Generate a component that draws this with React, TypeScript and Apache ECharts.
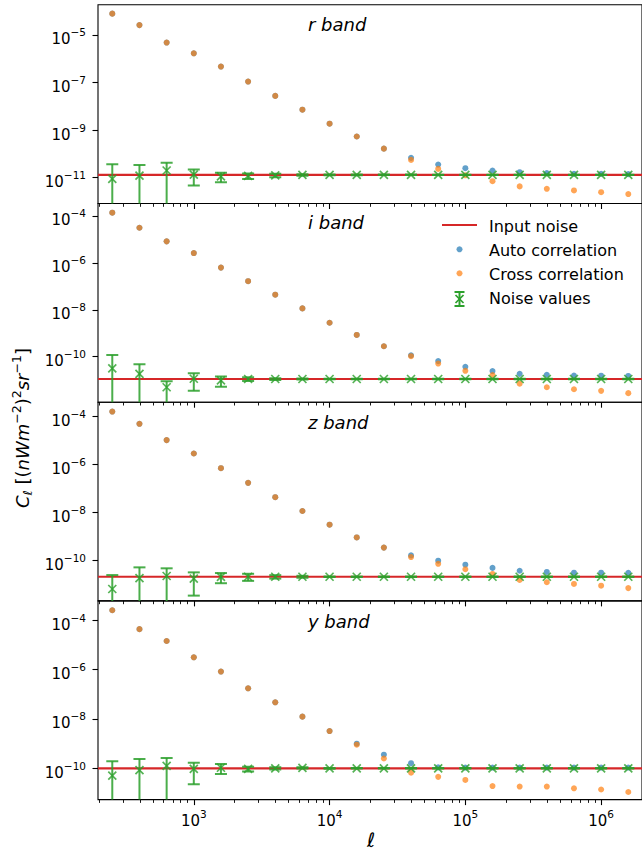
import { useEffect, useRef } from 'react';
import * as echarts from 'echarts';

const FONT = 'DejaVu Sans';

// Multipole bins (ell)
const ELL = [251, 398, 631, 1000, 1585, 2512, 3981, 6310, 10000, 15849, 25119, 39811, 63096, 100000, 158489, 251189, 398107, 630957, 1000000, 1584893];

const BANDS = ['r band', 'i band', 'z band', 'y band'];
const INPUT_NOISE = [1.32e-11, 1.12e-11, 2.14e-11, 9.8e-11];

// r band
const AUTO_R = [7.9e-5, 2.6e-5, 4.8e-6, 1.7e-6, 4.7e-7, 1.1e-7, 2.75e-8, 7.2e-9, 1.86e-9, 5.4e-10, 1.66e-10, 6.8e-11, 3.55e-11, 2.5e-11, 2.0e-11, 1.7e-11, 1.55e-11, 1.45e-11, 1.45e-11, 1.41e-11];
const CROSS_R = [7.9e-5, 2.6e-5, 4.8e-6, 1.7e-6, 4.7e-7, 1.1e-7, 2.75e-8, 7.2e-9, 1.86e-9, 5.4e-10, 1.66e-10, 5.6e-11, 2.34e-11, 1.26e-11, 7.1e-12, 4.3e-12, 3.4e-12, 2.9e-12, 2.45e-12, 2.04e-12];
const NOISE_R = [8.9e-12, 1.23e-11, 2.0e-11, 1.35e-11, 1.13e-11, 1.18e-11, 1.25e-11, 1.3e-11, 1.32e-11, 1.31e-11, 1.32e-11, 1.32e-11, 1.31e-11, 1.32e-11, 1.32e-11, 1.32e-11, 1.32e-11, 1.32e-11, 1.32e-11, 1.32e-11];
const NOISE_ERR_R = [2.8e-11, 2.2e-11, 2.2e-11, 8.8e-12, 4.9e-12, 3.0e-12, 2.0e-12, 1.0e-12, 5e-13, 4e-13, 3e-13, 3e-13, 2e-13, 2e-13, 2e-13, 2e-13, 2e-13, 2e-13, 2e-13, 2e-13];

// i band
const AUTO_I = [1.38e-4, 3.16e-5, 8.3e-6, 2.63e-6, 6.3e-7, 1.66e-7, 4.4e-8, 1.15e-8, 2.8e-9, 8.5e-10, 2.8e-10, 1.15e-10, 6.5e-11, 3.7e-11, 2.45e-11, 1.86e-11, 1.7e-11, 1.58e-11, 1.55e-11, 1.51e-11];
const CROSS_I = [1.38e-4, 3.16e-5, 8.3e-6, 2.63e-6, 6.3e-7, 1.66e-7, 4.4e-8, 1.15e-8, 2.8e-9, 8.5e-10, 2.8e-10, 1.05e-10, 5.1e-11, 2.5e-11, 1.66e-11, 7.1e-12, 5.0e-12, 4.1e-12, 3.5e-12, 2.8e-12];
const NOISE_I = [3.2e-11, 1.86e-11, 5.0e-12, 1.15e-11, 9.8e-12, 1.12e-11, 1.12e-11, 1.12e-11, 1.12e-11, 1.12e-11, 1.12e-11, 1.12e-11, 1.12e-11, 1.12e-11, 1.12e-11, 1.12e-11, 1.12e-11, 1.12e-11, 1.12e-11, 1.12e-11];
const NOISE_ERR_I = [8.5e-11, 2.9e-11, 4.1e-12, 8.0e-12, 4.5e-12, 2.0e-12, 1.0e-12, 6e-13, 3e-13, 2e-13, 2e-13, 2e-13, 2e-13, 2e-13, 2e-13, 2e-13, 2e-13, 2e-13, 2e-13, 2e-13];

// z band
const AUTO_Z = [1.62e-4, 5.0e-5, 1.05e-5, 2.9e-6, 7.1e-7, 1.74e-7, 4.4e-8, 1.17e-8, 3.16e-9, 9.3e-10, 3.5e-10, 1.66e-10, 1.0e-10, 6.8e-11, 5.0e-11, 3.8e-11, 3.4e-11, 3.16e-11, 3.16e-11, 3.1e-11];
const CROSS_Z = [1.62e-4, 5.0e-5, 1.05e-5, 2.9e-6, 7.1e-7, 1.74e-7, 4.4e-8, 1.17e-8, 3.16e-9, 9.3e-10, 3.5e-10, 1.41e-10, 7.4e-11, 4.4e-11, 2.8e-11, 1.58e-11, 1.26e-11, 1.07e-11, 9.1e-12, 7.2e-12];
const NOISE_Z = [6.6e-12, 1.86e-11, 2.3e-11, 1.8e-11, 2.1e-11, 2.14e-11, 2.14e-11, 2.14e-11, 2.14e-11, 2.14e-11, 2.14e-11, 2.14e-11, 2.14e-11, 2.14e-11, 2.14e-11, 2.14e-11, 2.14e-11, 2.14e-11, 2.14e-11, 2.14e-11];
const NOISE_ERR_Z = [1.85e-11, 3.4e-11, 2.5e-11, 1.45e-11, 9.5e-12, 7.0e-12, 3.5e-12, 2.0e-12, 5e-13, 4e-13, 4e-13, 4e-13, 4e-13, 4e-13, 4e-13, 4e-13, 4e-13, 4e-13, 4e-13, 4e-13];

// y band
const AUTO_Y = [2.57e-4, 4.4e-5, 1.45e-5, 3.16e-6, 8.3e-7, 1.74e-7, 4.7e-8, 1.23e-8, 3.2e-9, 9.8e-10, 3.5e-10, 1.58e-10, 1.07e-10, 1.05e-10, 1.05e-10, 1.05e-10, 1.05e-10, 1.05e-10, 1.05e-10, 1.05e-10];
const CROSS_Y = [2.57e-4, 4.4e-5, 1.45e-5, 3.16e-6, 8.3e-7, 1.74e-7, 4.7e-8, 1.23e-8, 3.2e-9, 8.9e-10, 2.45e-10, 6.5e-11, 4.4e-11, 3.3e-11, 1.86e-11, 1.78e-11, 1.78e-11, 1.51e-11, 1.35e-11, 1.07e-11];
const NOISE_Y = [4.9e-11, 8.3e-11, 1.23e-10, 9.3e-11, 1.03e-10, 9.3e-11, 9.8e-11, 1.02e-10, 9.8e-11, 9.8e-11, 9.8e-11, 9.8e-11, 9.8e-11, 9.8e-11, 9.8e-11, 9.8e-11, 9.8e-11, 9.8e-11, 9.8e-11, 9.8e-11];
const NOISE_ERR_Y = [1.41e-10, 1.5e-10, 1.34e-10, 7.1e-11, 4.5e-11, 2.1e-11, 1.0e-11, 6.0e-12, 3e-12, 2e-12, 2e-12, 2e-12, 2e-12, 2e-12, 2e-12, 2e-12, 2e-12, 2e-12, 2e-12, 2e-12];

const AUTO = [AUTO_R, AUTO_I, AUTO_Z, AUTO_Y];
const CROSS = [CROSS_R, CROSS_I, CROSS_Z, CROSS_Y];
const NOISE = [NOISE_R, NOISE_I, NOISE_Z, NOISE_Y];
const NOISE_ERR = [NOISE_ERR_R, NOISE_ERR_I, NOISE_ERR_Z, NOISE_ERR_Y];

// Axis ranges and ticks
const X_MIN = 197;
const X_MAX = 2.0e6;
const X_MAJOR = [1e3, 1e4, 1e5, 1e6];
const X_MINOR = [200, 300, 400, 500, 600, 700, 800, 900, 2000, 3000, 4000, 5000, 6000, 7000, 8000, 9000, 20000, 30000, 40000, 50000, 60000, 70000, 80000, 90000, 200000, 300000, 400000, 500000, 600000, 700000, 800000, 900000];
const Y_MIN = [8.2e-13, 1.15e-12, 2.11e-12, 5.25e-12];
const Y_MAX = [1.86e-4, 3.41e-4, 3.98e-4, 6.17e-4];
const Y_TICKS = [
  [1e-11, 1e-9, 1e-7, 1e-5],
  [1e-10, 1e-8, 1e-6, 1e-4],
  [1e-10, 1e-8, 1e-6, 1e-4],
  [1e-10, 1e-8, 1e-6, 1e-4],
];

const BLUE = '#1f77b4';
const ORANGE = '#ff7f0e';
const GREEN = '#2ca02c';
const RED = '#d62728';

const GRID_LEFT = 98;
const GRID_WIDTH = 546;
const GRID_TOPS = [4.8, 203.5, 402.2, 600.9];
const GRID_HEIGHT = 198.7;
const TITLE_TOPS = [15, 213.5, 413.5, 612.5];

const powLabel = (v: number) => {
  const e = Math.round(Math.log10(v));
  return '{b|10}{s|' + (e < 0 ? '\u2212' : '') + Math.abs(e) + '}';
};

const tickRich = {
  b: { fontFamily: FONT, fontSize: 15, lineHeight: 20, verticalAlign: 'bottom', color: '#000' },
  s: { fontFamily: FONT, fontSize: 10.5, lineHeight: 9, verticalAlign: 'top', color: '#000' },
};

function buildOption() {
  const grid = GRID_TOPS.map((top) => ({
    left: GRID_LEFT,
    top,
    width: GRID_WIDTH,
    height: GRID_HEIGHT,
    show: true,
    borderColor: '#000',
    borderWidth: 1.1,
    backgroundColor: 'transparent',
  }));

  const xAxis: any[] = [];
  const yAxis: any[] = [];
  const series: any[] = [];

  GRID_TOPS.forEach((_, i) => {
    const last = i === GRID_TOPS.length - 1;
    xAxis.push({
      type: 'log',
      logBase: 10,
      gridIndex: i,
      min: X_MIN,
      max: X_MAX,
      position: 'bottom',
      axisLine: { show: false },
      splitLine: { show: false },
      axisTick: { show: true, inside: false, length: 5.5, customValues: X_MAJOR, lineStyle: { color: '#000', width: 1.1 } },
      axisLabel: last
        ? { show: true, customValues: X_MAJOR, formatter: powLabel, rich: tickRich, margin: 8.7 }
        : { show: false },
    });
    xAxis.push({
      type: 'log',
      logBase: 10,
      gridIndex: i,
      min: X_MIN,
      max: X_MAX,
      position: 'bottom',
      axisLine: { show: false },
      splitLine: { show: false },
      axisTick: { show: true, inside: false, length: 3.3, customValues: X_MINOR, lineStyle: { color: '#000', width: 0.9 } },
      axisLabel: { show: false },
    });
    yAxis.push({
      type: 'log',
      logBase: 10,
      gridIndex: i,
      min: Y_MIN[i],
      max: Y_MAX[i],
      axisLine: { show: false },
      splitLine: { show: false },
      axisTick: { show: true, inside: false, length: 5.5, customValues: Y_TICKS[i], lineStyle: { color: '#000', width: 1.1 } },
      axisLabel: { show: true, customValues: Y_TICKS[i], formatter: powLabel, rich: tickRich, margin: 12, padding: [4, 0, 0, 0] },
    });

    const xi = i * 2;
    series.push({
      name: 'Input noise',
      type: 'line',
      xAxisIndex: xi,
      yAxisIndex: i,
      data: [[X_MIN, INPUT_NOISE[i]], [X_MAX, INPUT_NOISE[i]]],
      symbol: 'none',
      lineStyle: { color: RED, width: 2.2 },
      silent: true,
      z: 1,
    });
    series.push({
      name: 'Auto correlation',
      type: 'scatter',
      xAxisIndex: xi,
      yAxisIndex: i,
      data: ELL.map((l, j) => [l, AUTO[i][j]]),
      symbol: 'circle',
      symbolSize: 6,
      itemStyle: { color: BLUE, opacity: 0.7 },
      z: 2,
    });
    series.push({
      name: 'Cross correlation',
      type: 'scatter',
      xAxisIndex: xi,
      yAxisIndex: i,
      data: ELL.map((l, j) => [l, CROSS[i][j]]),
      symbol: 'circle',
      symbolSize: 6,
      itemStyle: { color: ORANGE, opacity: 0.7 },
      z: 3,
    });
    series.push({
      name: 'Noise values',
      type: 'custom',
      xAxisIndex: xi,
      yAxisIndex: i,
      clip: true,
      z: 4,
      data: ELL.map((l, j) => [l, NOISE[i][j], NOISE_ERR[i][j]]),
      encode: { x: 0, y: 1 },
      renderItem: (params: any, api: any) => {
        const x = api.value(0) as number;
        const v = api.value(1) as number;
        const e = api.value(2) as number;
        const hi = api.coord([x, v + e]);
        const lowVal = v - e;
        const cs = params.coordSys;
        const lo = lowVal > 0 ? api.coord([x, lowVal]) : [hi[0], cs.y + cs.height + 30];
        const cap = 6;
        const style = { stroke: GREEN, lineWidth: 2, opacity: 0.85 };
        const children: any[] = [
          { type: 'line', shape: { x1: hi[0], y1: hi[1], x2: lo[0], y2: lo[1] }, style },
          { type: 'line', shape: { x1: hi[0] - cap, y1: hi[1], x2: hi[0] + cap, y2: hi[1] }, style },
        ];
        if (lowVal > 0) {
          children.push({ type: 'line', shape: { x1: lo[0] - cap, y1: lo[1], x2: lo[0] + cap, y2: lo[1] }, style });
        }
        return { type: 'group', children };
      },
    });
    series.push({
      name: 'Noise values',
      type: 'scatter',
      xAxisIndex: xi,
      yAxisIndex: i,
      data: ELL.map((l, j) => [l, NOISE[i][j]]),
      symbol: 'path://M0 0L10 10M10 0L0 10',
      symbolSize: 8,
      itemStyle: { color: 'none', borderColor: GREEN, borderWidth: 1.7 },
      z: 5,
    });
  });

  const title = BANDS.map((t, i) => ({
    text: t,
    left: 308,
    top: TITLE_TOPS[i],
    padding: 0,
    textStyle: { fontFamily: FONT, fontStyle: 'italic', fontWeight: 'normal', fontSize: 18, lineHeight: 18, color: '#000' },
  }));

  // legend drawn in the second panel
  const legendX = 459.5;
  const rows = [226, 250, 274, 298];
  const textStyle = (text: string, y: number) => ({
    type: 'text',
    x: 489,
    y,
    style: { text, fontFamily: FONT, fontSize: 16, fill: '#000', align: 'left', verticalAlign: 'middle' },
  });
  const green = { stroke: GREEN, lineWidth: 2 };
  const graphic: any[] = [
    { type: 'line', shape: { x1: 442, y1: 225, x2: 477, y2: 225 }, style: { stroke: RED, lineWidth: 2.2 } },
    textStyle('Input noise', rows[0]),
    { type: 'circle', shape: { cx: legendX, cy: 249.3, r: 3 }, style: { fill: BLUE, opacity: 0.7 } },
    textStyle('Auto correlation', rows[1]),
    { type: 'circle', shape: { cx: legendX, cy: 273.3, r: 3 }, style: { fill: ORANGE, opacity: 0.7 } },
    textStyle('Cross correlation', rows[2]),
    { type: 'line', shape: { x1: legendX, y1: 292, x2: legendX, y2: 306 }, style: green },
    { type: 'line', shape: { x1: legendX - 5, y1: 292, x2: legendX + 5, y2: 292 }, style: green },
    { type: 'line', shape: { x1: legendX - 5, y1: 306, x2: legendX + 5, y2: 306 }, style: green },
    { type: 'line', shape: { x1: legendX - 4, y1: 295, x2: legendX + 4, y2: 303 }, style: { stroke: GREEN, lineWidth: 1.7 } },
    { type: 'line', shape: { x1: legendX + 4, y1: 295, x2: legendX - 4, y2: 303 }, style: { stroke: GREEN, lineWidth: 1.7 } },
    textStyle('Noise values', rows[3]),
    // y-axis title
    {
      type: 'text',
      x: 22,
      y: 428,
      rotation: Math.PI / 2,
      style: {
        text: '{it|C}{sub|\u2113}{rm| [(}{it|nWm}{sup|\u22122}{rm|)}{sup|2}{it|sr}{sup|\u22121}{rm|]}',
        align: 'center',
        verticalAlign: 'middle',
        rich: {
          it: { fontFamily: FONT, fontStyle: 'italic', fontSize: 18, lineHeight: 24, fill: '#000' },
          rm: { fontFamily: FONT, fontSize: 18, lineHeight: 24, fill: '#000' },
          sup: { fontFamily: FONT, fontSize: 12.5, lineHeight: 12, verticalAlign: 'top', fill: '#000' },
          sub: { fontFamily: FONT, fontStyle: 'italic', fontSize: 12.5, lineHeight: 12, verticalAlign: 'bottom', fill: '#000' },
        },
      },
    },
    // x-axis title
    {
      type: 'text',
      x: 371,
      y: 840,
      style: { text: '\u2113', fontFamily: FONT, fontStyle: 'italic', fontSize: 20, fill: '#000', align: 'center', verticalAlign: 'middle' },
    },
  ];

  return {
    animation: false,
    backgroundColor: '#fff',
    title,
    grid,
    xAxis,
    yAxis,
    series,
    graphic,
  };
}

export default function App() {
  const ref = useRef<HTMLDivElement>(null);
  useEffect(() => {
    if (!ref.current) return;
    const chart = echarts.init(ref.current, undefined, { renderer: 'svg' });
    chart.setOption(buildOption() as any);
    return () => chart.dispose();
  }, []);
  return (
    <div
      ref={ref}
      style={{ position: 'fixed', left: 0, top: 0, width: 642, height: 852, background: '#fff' }}
    />
  );
}
